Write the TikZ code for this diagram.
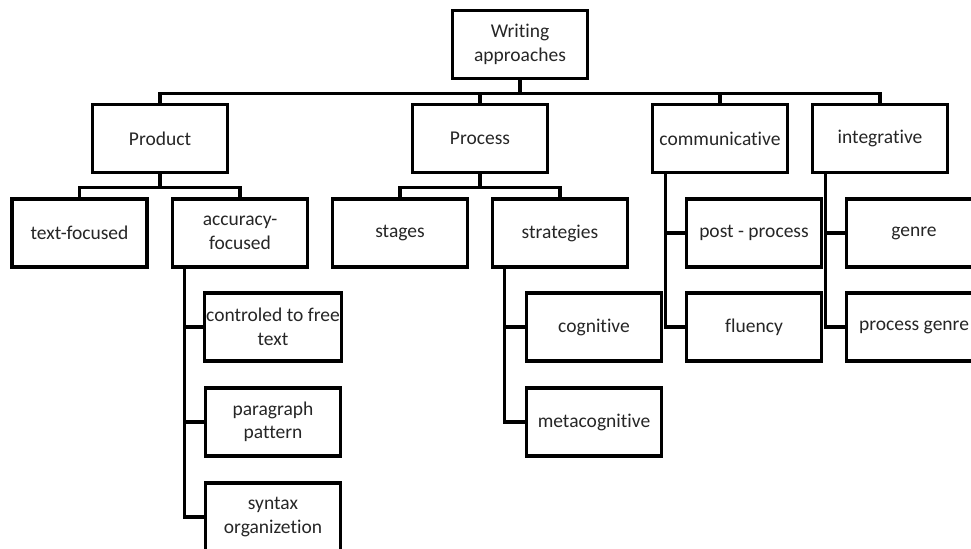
\documentclass[tikz,border=0pt]{standalone}
\usepackage{fontspec}
\setmainfont[Ligatures=NoCommon]{Carlito}
\usepackage{tikz}
\usetikzlibrary{positioning,calc}

\begin{document}
\begin{tikzpicture}[
    font=\fontsize{11.1}{13.4}\selectfont,
    box/.style={draw,line width=2.1pt,fill=white,align=center,text=black!85,
      minimum width=2.7cm,minimum height=1.36cm,inner sep=1pt},
    link/.style={line width=1.9pt}
  ]
    \useasboundingbox (0,0) rectangle (19.42,-10.96);

    % top levels
    \node[box] (root) at (10.40,-0.89) {Writing\\approaches};
    \node[box] (product) at (3.20,-2.77) {Product};
    \node[box] (process) at (9.60,-2.77) {Process};
    \node[box] (commun) at (14.40,-2.77) {communicative};
    \node[box] (integr) at (17.60,-2.77) {integrative};

    \node[box] (textfoc) at (1.59,-4.66) {text-focused};
    \node[box] (accfoc) at (4.80,-4.66) {accuracy-\\focused};
    \node[box] (stages) at (8.00,-4.66) {stages};
    \node[box] (strat) at (11.20,-4.66) {strategies};
    \node[box] (postproc) at (15.08,-4.66) {post - process};
    \node[box] (genre) at (18.28,-4.66) {genre};

    % side branches
    \node[box] (ctrl) at (5.46,-6.54) {controled to free\\text};
    \node[box] (parag) at (5.46,-8.44) {paragraph\\pattern};
    \node[box] (syntax) at (5.46,-10.34) {syntax\\organizetion};
    \node[box] (cogn) at (11.88,-6.54) {cognitive};
    \node[box] (metacogn) at (11.88,-8.44) {metacognitive};
    \node[box] (fluency) at (15.08,-6.54) {fluency};
    \node[box] (procgenre) at (18.28,-6.54) {process genre};

    \foreach \n in {product,process,commun,integr}
      \draw[link] (root.south) -- ++(0,-0.26) -| (\n.north);
    \foreach \n in {textfoc,accfoc}
      \draw[link] (product.south) -- ++(0,-0.26) -| (\n.north);
    \foreach \n in {stages,strat}
      \draw[link] (process.south) -- ++(0,-0.26) -| (\n.north);

    \foreach \n in {ctrl,parag,syntax}
      \draw[link] ($(accfoc.south west)+(0.28,0)$) |- (\n.west);
    \foreach \n in {cogn,metacogn}
      \draw[link] ($(strat.south west)+(0.28,0)$) |- (\n.west);
    \foreach \n in {postproc,fluency}
      \draw[link] ($(commun.south west)+(0.3,0)$) |- (\n.west);
    \foreach \n in {genre,procgenre}
      \draw[link] ($(integr.south west)+(0.3,0)$) |- (\n.west);
  \end{tikzpicture}
\end{document}
